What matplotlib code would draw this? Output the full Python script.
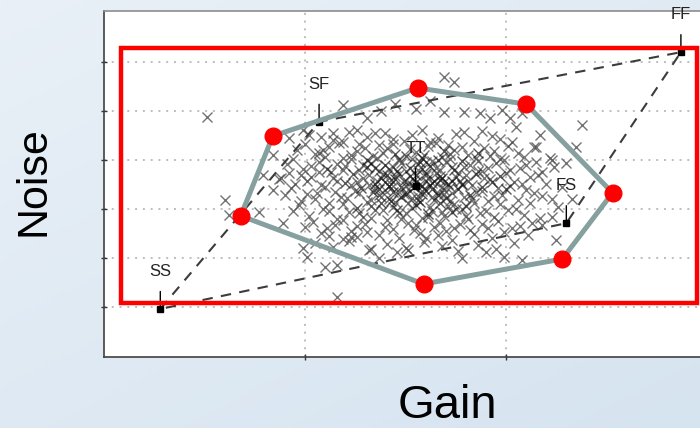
import matplotlib
matplotlib.use("Agg")
import matplotlib.pyplot as plt
import numpy as np
from matplotlib.patches import Rectangle

# corner designs of the process window (gain, noise)
corner_names = ["SS", "SF", "FF", "FS", "TT"]
corner_gain = [0.28, 1.07, 2.87, 2.30, 1.55]
corner_noise = [0.96, 4.78, 6.20, 2.71, 3.47]

# Monte Carlo samples, dense core
core = [
    (1.02, 4.52), (1.14, 4.41), (1.22, 4.58), (1.31, 4.47), (1.40, 4.55), (1.49, 4.38), (1.58, 4.62),
    (1.66, 4.44), (1.75, 4.53), (1.84, 4.39), (1.93, 4.49), (2.03, 4.36), (1.27, 4.33), (1.53, 4.50),
    (1.71, 4.31), (1.88, 4.60),
    (0.96, 4.21), (1.05, 4.12), (1.12, 4.27), (1.19, 4.05), (1.26, 4.18), (1.34, 4.09), (1.41, 4.25),
    (1.47, 4.02), (1.55, 4.16), (1.61, 4.28), (1.68, 4.07), (1.74, 4.20), (1.81, 4.11), (1.89, 4.24),
    (1.97, 4.03), (2.06, 4.15), (2.14, 4.26), (1.37, 4.30), (1.63, 3.98), (1.92, 4.08),
    (0.91, 3.92), (0.99, 3.81), (1.07, 3.96), (1.13, 3.75), (1.20, 3.88), (1.27, 3.79), (1.33, 3.94),
    (1.39, 3.72), (1.44, 3.86), (1.50, 3.77), (1.56, 3.91), (1.60, 3.70), (1.65, 3.84), (1.70, 3.96),
    (1.76, 3.74), (1.82, 3.89), (1.88, 3.78), (1.95, 3.93), (2.02, 3.80), (2.10, 3.90), (2.18, 3.76),
    (1.47, 3.99), (1.58, 3.82), (1.73, 3.86),
    (0.87, 3.62), (0.95, 3.51), (1.03, 3.66), (1.10, 3.45), (1.16, 3.58), (1.23, 3.49), (1.29, 3.64),
    (1.35, 3.42), (1.40, 3.55), (1.45, 3.67), (1.50, 3.47), (1.54, 3.60), (1.59, 3.41), (1.63, 3.53),
    (1.67, 3.68), (1.72, 3.44), (1.77, 3.57), (1.83, 3.48), (1.89, 3.63), (1.96, 3.43), (2.04, 3.56),
    (2.12, 3.65), (2.20, 3.50), (1.43, 3.50), (1.52, 3.37), (1.57, 3.52), (1.61, 3.63), (1.69, 3.39),
    (1.36, 3.58), (1.80, 3.69),
    (0.90, 3.28), (0.98, 3.17), (1.06, 3.33), (1.12, 3.12), (1.18, 3.25), (1.25, 3.36), (1.31, 3.15),
    (1.37, 3.29), (1.42, 3.20), (1.47, 3.34), (1.51, 3.13), (1.56, 3.26), (1.60, 3.37), (1.64, 3.18),
    (1.69, 3.30), (1.74, 3.11), (1.79, 3.24), (1.85, 3.35), (1.91, 3.16), (1.98, 3.28), (2.06, 3.19),
    (2.14, 3.32), (2.23, 3.21), (1.40, 3.38), (1.53, 3.22), (1.66, 3.33), (1.33, 3.06),
    (0.94, 2.96), (1.02, 2.85), (1.09, 2.99), (1.16, 2.80), (1.22, 2.93), (1.29, 2.84), (1.35, 2.98),
    (1.41, 2.78), (1.47, 2.91), (1.53, 3.02), (1.58, 2.82), (1.63, 2.95), (1.69, 2.86), (1.75, 3.00),
    (1.81, 2.79), (1.87, 2.92), (1.94, 2.83), (2.01, 2.97), (2.09, 2.88), (2.17, 2.81), (1.44, 3.05),
    (1.71, 3.07),
    (1.00, 2.63), (1.08, 2.52), (1.15, 2.67), (1.23, 2.55), (1.30, 2.70), (1.37, 2.47), (1.44, 2.60),
    (1.51, 2.71), (1.57, 2.50), (1.64, 2.64), (1.70, 2.56), (1.77, 2.69), (1.84, 2.48), (1.91, 2.61),
    (1.99, 2.53), (2.07, 2.66), (1.26, 2.42), (1.60, 2.40),
    (1.05, 2.31), (1.14, 2.22), (1.22, 2.34), (1.33, 2.18), (1.41, 2.29), (1.50, 2.20), (1.59, 2.33),
    (1.68, 2.24), (1.76, 2.15), (1.86, 2.27), (1.95, 2.19), (2.04, 2.30),
]

core2 = [
    (1.08, 4.47), (1.35, 4.56), (1.44, 4.43), (1.62, 4.37), (1.79, 4.57), (1.97, 4.42), (1.19, 4.36),
    (1.00, 4.33), (1.09, 4.20), (1.17, 4.35), (1.23, 4.10), (1.30, 4.24), (1.39, 4.14), (1.44, 4.32),
    (1.52, 4.22), (1.59, 4.11), (1.65, 4.34), (1.72, 4.12), (1.78, 4.26), (1.85, 4.05), (1.94, 4.19),
    (2.01, 4.29), (2.09, 4.07),
    (0.94, 4.02), (1.03, 3.88), (1.10, 4.07), (1.16, 3.92), (1.23, 4.01), (1.29, 3.90), (1.36, 4.05),
    (1.42, 3.81), (1.48, 3.94), (1.53, 4.02), (1.60, 3.95), (1.67, 3.80), (1.72, 4.03), (1.79, 3.85),
    (1.86, 3.97), (1.91, 3.83), (1.99, 3.99), (2.07, 3.84), (2.15, 3.95),
    (0.92, 3.73), (1.01, 3.57), (1.07, 3.76), (1.14, 3.63), (1.19, 3.79), (1.26, 3.56), (1.32, 3.70),
    (1.37, 3.77), (1.43, 3.59), (1.47, 3.71), (1.51, 3.53), (1.56, 3.79), (1.60, 3.58), (1.65, 3.74),
    (1.69, 3.55), (1.75, 3.66), (1.81, 3.58), (1.86, 3.78), (1.92, 3.62), (2.00, 3.74), (2.08, 3.52),
    (2.16, 3.69),
    (0.93, 3.42), (1.01, 3.30), (1.08, 3.48), (1.15, 3.35), (1.21, 3.23), (1.27, 3.32), (1.32, 3.48),
    (1.38, 3.24), (1.43, 3.42), (1.49, 3.31), (1.53, 3.49), (1.58, 3.36), (1.63, 3.25), (1.68, 3.45),
    (1.73, 3.33), (1.78, 3.48), (1.83, 3.21), (1.88, 3.37), (1.94, 3.26), (2.02, 3.47), (2.10, 3.38),
    (2.18, 3.27),
    (0.97, 3.08), (1.05, 3.20), (1.12, 2.95), (1.19, 3.10), (1.27, 2.91), (1.33, 3.19), (1.39, 2.97),
    (1.45, 3.14), (1.50, 2.92), (1.56, 3.18), (1.62, 3.04), (1.68, 2.93), (1.72, 3.17), (1.78, 2.99),
    (1.84, 3.12), (1.90, 2.95), (1.97, 3.10), (2.05, 3.01), (2.12, 3.12),
    (1.04, 2.74), (1.11, 2.61), (1.19, 2.78), (1.26, 2.66), (1.33, 2.82), (1.40, 2.64), (1.48, 2.79),
    (1.55, 2.68), (1.61, 2.84), (1.67, 2.72), (1.74, 2.61), (1.80, 2.85), (1.88, 2.70), (1.96, 2.76),
    (2.03, 2.62),
    (1.12, 2.44), (1.19, 2.38), (1.31, 2.54), (1.47, 2.41), (1.54, 2.57), (1.66, 2.46), (1.73, 2.36),
    (1.82, 2.58), (1.93, 2.40), (2.11, 2.47),
]

center = [
    (1.24, 3.71), (1.31, 3.85), (1.38, 3.63), (1.46, 3.78), (1.49, 3.58), (1.55, 3.70), (1.62, 3.88),
    (1.67, 3.60), (1.74, 3.79), (1.78, 3.52), (1.85, 3.72), (1.28, 3.43), (1.34, 3.34), (1.42, 3.46),
    (1.48, 3.25), (1.54, 3.44), (1.58, 3.31), (1.62, 3.48), (1.70, 3.22), (1.76, 3.40), (1.82, 3.29),
    (1.26, 3.02), (1.38, 3.12), (1.46, 2.97), (1.55, 3.08), (1.61, 2.90), (1.67, 3.12), (1.73, 2.94),
    (1.80, 3.06), (1.31, 4.00), (1.45, 4.12), (1.58, 4.04), (1.69, 4.18), (1.78, 3.97), (1.86, 4.15),
    (1.20, 3.54), (1.11, 3.82), (1.93, 3.55), (2.00, 3.40), (1.97, 3.68), (1.52, 3.83), (1.64, 3.57),
    (1.40, 3.90), (1.71, 3.50), (1.57, 3.15), (1.35, 3.52), (1.88, 3.44), (1.44, 3.35), (1.66, 4.00),
    (1.50, 4.08),
    (1.45, 3.62), (1.52, 3.68), (1.58, 3.47), (1.63, 3.40), (1.48, 3.44), (1.55, 3.56), (1.41, 3.70),
    (1.68, 3.63), (1.37, 3.40), (1.73, 3.58), (1.60, 3.73), (1.50, 3.30), (1.66, 3.28), (1.43, 3.16),
    (1.57, 3.95), (1.35, 3.83),
]

# sparse samples around the cloud
halo = [
    (0.92, 4.45), (0.84, 4.10), (0.99, 4.61), (1.19, 5.12), (1.31, 4.86), (1.26, 4.61), (1.14, 4.55),
    (1.07, 4.14), (0.79, 3.69), (0.88, 3.63), (0.98, 3.69), (0.84, 3.39),
    (1.69, 4.98), (1.79, 4.98), (1.87, 4.96), (1.92, 4.86), (2.02, 4.86), (2.05, 4.67), (2.17, 4.51),
    (2.15, 4.27), (2.23, 4.00), (2.24, 3.86), (2.35, 4.27), (2.38, 4.71), (1.69, 5.69), (1.74, 5.59),
    (0.60, 3.18), (0.77, 2.94), (0.62, 2.88), (0.89, 2.71), (0.99, 2.20), (1.01, 2.02), (1.10, 1.82),
    (1.16, 1.86), (1.16, 1.20), (1.23, 2.43), (1.32, 2.16), (1.37, 2.00), (1.46, 2.12), (1.51, 2.16),
    (2.25, 2.37), (2.08, 1.96), (1.99, 2.02), (1.78, 2.00), (1.90, 2.12), (2.13, 2.71), (2.23, 2.84),
    (2.18, 2.67), (0.51, 4.88), (2.22, 4.04), (2.30, 3.94), (2.28, 3.45), (2.33, 3.20), (2.26, 3.05),
    (1.45, 5.15), (1.55, 5.05), (1.62, 5.20), (1.38, 5.00), (1.98, 5.03), (2.08, 4.95),
]

# hull of the sample cloud
hull_gain = [0.84, 1.56, 2.10, 2.53, 2.28, 1.59, 0.68]
hull_noise = [4.49, 5.47, 5.14, 3.33, 1.98, 1.47, 2.86]

# bounding box
box_gain = (0.085, 2.95)
box_noise = (1.08, 6.29)

fig = plt.figure(figsize=(7, 4.28), dpi=100)

# light blue backdrop
bg = fig.add_axes([0, 0, 1, 1], zorder=-5)
yy, xx = np.mgrid[0:1:100j, 0:1:160j]
shade = 0.55 * yy + 0.45 * xx
c0 = np.array([233, 240, 247]) / 255
c1 = np.array([214, 228, 240]) / 255
img = c0[None, None, :] * (1 - shade[..., None]) + c1[None, None, :] * shade[..., None]
bg.imshow(img, aspect="auto", extent=[0, 1, 0, 1])
bg.set_axis_off()

ax = fig.add_axes([104 / 700, 71 / 428, 596 / 700, 346 / 428])
ax.set_facecolor("white")
ax.set_xlim(0, 2.965)
ax.set_ylim(-0.02, 7.04)
ax.set_xticks([1, 2])
ax.set_yticks([1, 2, 3, 4, 5, 6])
ax.set_xticklabels([])
ax.set_yticklabels([])
ax.tick_params(direction="inout", length=4, width=1, color="#333333")
ax.grid(True, color="#bdbdbd", linestyle=(0, (1, 3)), linewidth=1.4)
ax.set_axisbelow(True)
for side in ["left", "bottom"]:
    ax.spines[side].set_color("#404040")
    ax.spines[side].set_linewidth(1.2)
ax.spines["top"].set_color("#8c8c8c")
ax.spines["top"].set_linewidth(1.2)
ax.spines["right"].set_visible(False)

# sample cloud
for pts, col, a in [(halo, "#5a5a5a", 0.85), (core, "#4a4a4a", 0.75),
                    (core2, "#4a4a4a", 0.75), (center, "#111111", 0.7)]:
    g, n = zip(*pts)
    ax.plot(g, n, "x", color=col, alpha=a, markersize=6.5, markeredgewidth=1.0, zorder=2)

# dashed corner parallelogram SS-SF-FF-FS
order = [0, 1, 2, 3, 0]
ax.plot([corner_gain[i] for i in order], [corner_noise[i] for i in order],
        "--", color="#3c3c3c", lw=1.5, dashes=(5, 4), zorder=3)

for name, g, n in zip(corner_names, corner_gain, corner_noise):
    ax.plot(g, n, "s", color="black", markersize=4, zorder=4)
    ax.annotate(name, xy=(g, n), xytext=(0, 27), textcoords="offset points",
                ha="center", va="center", fontsize=12, family="Liberation Sans",
                color="#222222",
                arrowprops=dict(arrowstyle="-", color="black", lw=1, shrinkA=7, shrinkB=2),
                zorder=4)

# hull polygon
ax.plot(hull_gain + hull_gain[:1], hull_noise + hull_noise[:1], "-",
        color="#86a0a0", lw=3.6, zorder=5, solid_joinstyle="round")
ax.plot(hull_gain, hull_noise, "o", color="#ff0000", markersize=12, zorder=6)

ax.add_patch(Rectangle((box_gain[0], box_noise[0]), box_gain[1] - box_gain[0],
                       box_noise[1] - box_noise[0], fill=False, ec="#ff0000",
                       lw=3.2, zorder=7, clip_on=False))

fig.text(34 / 700, 1 - 181 / 428, "Noise", rotation=90, ha="center", va="center",
         fontsize=31, family="Liberation Sans")
fig.text(447 / 700, 1 - 406 / 428, "Gain", ha="center", va="center",
         fontsize=34, family="Liberation Sans")

fig.savefig("out.png", dpi=100)
